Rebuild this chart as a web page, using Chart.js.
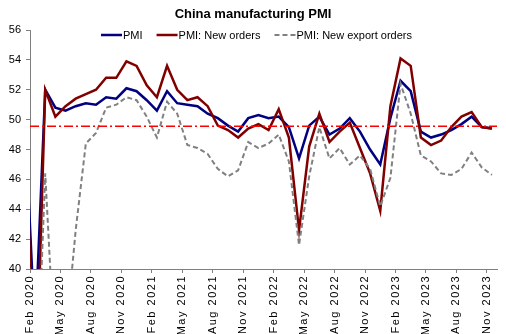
<!DOCTYPE html>
<html>
<head>
<meta charset="utf-8">
<script src="https://cdn.jsdelivr.net/npm/chart.js@4/dist/chart.umd.min.js"></script>
<style>
  body { margin: 0; background: #fff; }
</style>
</head>
<body>
<canvas id="pmiChart" width="506" height="334"></canvas>
<script>
// ---- data (Jan 2020 sits just left of the axis, line comes in from there) ----
const months = [
  'Jan 2020','Feb 2020','Mar 2020','Apr 2020','May 2020','Jun 2020','Jul 2020','Aug 2020','Sep 2020','Oct 2020','Nov 2020','Dec 2020',
  'Jan 2021','Feb 2021','Mar 2021','Apr 2021','May 2021','Jun 2021','Jul 2021','Aug 2021','Sep 2021','Oct 2021','Nov 2021','Dec 2021',
  'Jan 2022','Feb 2022','Mar 2022','Apr 2022','May 2022','Jun 2022','Jul 2022','Aug 2022','Sep 2022','Oct 2022','Nov 2022','Dec 2022',
  'Jan 2023','Feb 2023','Mar 2023','Apr 2023','May 2023','Jun 2023','Jul 2023','Aug 2023','Sep 2023','Oct 2023','Nov 2023'
];

const pmi = [
  50.0, 35.7, 52.0, 50.8, 50.6, 50.9, 51.1, 51.0, 51.5, 51.4, 52.1, 51.9,
  51.3, 50.6, 51.9, 51.1, 51.0, 50.9, 50.4, 50.1, 49.6, 49.2, 50.1, 50.3,
  50.1, 50.2, 49.5, 47.4, 49.6, 50.2, 49.0, 49.4, 50.1, 49.2, 48.0, 47.0,
  50.1, 52.6, 51.9, 49.2, 48.8, 49.0, 49.3, 49.7, 50.2, 49.5, 49.4
];

const newOrders = [
  51.4, 29.3, 52.0, 50.2, 50.9, 51.4, 51.7, 52.0, 52.8, 52.8, 53.9, 53.6,
  52.3, 51.5, 53.6, 52.0, 51.3, 51.5, 50.9, 49.6, 49.3, 48.8, 49.4, 49.7,
  49.3, 50.7, 48.8, 42.6, 48.2, 50.4, 48.5, 49.2, 49.8, 48.1, 46.4, 43.9,
  50.9, 54.1, 53.6, 48.8, 48.3, 48.6, 49.5, 50.2, 50.5, 49.5, 49.4
];

const exportOrders = [
  48.7, 28.7, 46.4, 33.5, 35.3, 42.6, 48.4, 49.1, 50.8, 51.0, 51.5, 51.3,
  50.2, 48.8, 51.2, 50.4, 48.3, 48.1, 47.7, 46.7, 46.2, 46.6, 48.5, 48.1,
  48.4, 49.0, 47.2, 41.6, 46.2, 49.5, 47.4, 48.1, 47.0, 47.6, 46.7, 44.2,
  46.1, 52.4, 50.4, 47.6, 47.2, 46.4, 46.3, 46.7, 47.8, 46.8, 46.3
];

const tickLabels = [
  'Feb 2020','May 2020','Aug 2020','Nov 2020','Feb 2021','May 2021','Aug 2021','Nov 2021',
  'Feb 2022','May 2022','Aug 2022','Nov 2022','Feb 2023','May 2023','Aug 2023','Nov 2023'
];

const refLevel = 49.55;   // red dash-dot level

// x position: Feb 2020 = 0
function toPoints(arr) {
  return arr.map((v, i) => ({ x: i - 1, y: v }));
}

const FONT = '"Liberation Sans", Arial, sans-serif';
Chart.defaults.font.family = FONT;
Chart.defaults.color = '#000';

const seriesStyle = [
  { label: 'PMI', color: '#000080', dash: [] },
  { label: 'PMI: New orders', color: '#800000', dash: [] },
  { label: 'PMI: New export orders', color: '#808080', dash: [5, 3] }
];

// title + legend drawn inside the plot like the original
const titleLegend = {
  id: 'titleLegend',
  afterUpdate(chart) {
    // the date labels are letter-spaced in the original
    const sx = chart.scales.x;
    if (sx && !sx._spaced) {
      const orig = sx.drawLabels;
      sx.drawLabels = function (area) {
        this.ctx.save();
        this.ctx.letterSpacing = '1.5px';
        orig.call(this, area);
        this.ctx.restore();
      };
      sx._spaced = true;
    }
  },
  afterDraw(chart) {
    const c = chart.ctx;
    c.save();
    c.fillStyle = '#000';
    c.font = 'bold 13px ' + FONT;
    c.textAlign = 'center';
    c.textBaseline = 'middle';
    c.fillText('China manufacturing PMI', 253, 14);

    c.font = '11px ' + FONT;
    c.textAlign = 'left';
    let x = 101;
    const y = 35;
    seriesStyle.forEach(s => {
      c.beginPath();
      c.strokeStyle = s.color;
      c.lineWidth = s.dash.length ? 2 : 2.5;
      c.setLineDash(s.dash);
      c.moveTo(x, y);
      c.lineTo(x + 21, y);
      c.stroke();
      c.setLineDash([]);
      c.fillText(s.label, x + 22, y + 1);
      x += 22 + c.measureText(s.label).width + 14;
    });
    c.restore();
  }
};

let ctx = document.getElementById('pmiChart');

let chart = new Chart(ctx, {
  type: 'line',
  data: {
    datasets: [
      {
        label: 'ref',
        data: [{ x: -0.5, y: refLevel }, { x: 45.5, y: refLevel }],
        borderColor: '#FF0000',
        borderWidth: 1.5,
        borderDash: [9, 3, 2, 3],
        order: 0
      },
      {
        label: seriesStyle[2].label,
        data: toPoints(exportOrders),
        borderColor: seriesStyle[2].color,
        borderWidth: 2,
        borderDash: seriesStyle[2].dash,
        order: 1
      },
      {
        label: seriesStyle[1].label,
        data: toPoints(newOrders),
        borderColor: seriesStyle[1].color,
        borderWidth: 2.5,
        order: 2
      },
      {
        label: seriesStyle[0].label,
        data: toPoints(pmi),
        borderColor: seriesStyle[0].color,
        borderWidth: 2.5,
        order: 3
      }
    ]
  },
  options: {
    responsive: false,
    animation: false,
    layout: { padding: { top: 30, right: 9, left: 0, bottom: 0 } },
    elements: {
      point: { radius: 0 },
      line: { tension: 0, fill: false }
    },
    plugins: {
      legend: { display: false },
      tooltip: { enabled: false }
    },
    scales: {
      x: {
        type: 'linear',
        min: -0.5,
        max: 45.5,
        afterBuildTicks: axis => {
          axis.ticks = tickLabels.map(l => ({ value: months.indexOf(l) - 1.5 }));
        },
        afterFit: s => { s.height = 65; },
        ticks: {
          autoSkip: false,
          maxRotation: 90,
          minRotation: 90,
          padding: 2,
          font: { size: 11 },
          callback: v => months[Math.round(v + 1.5)]
        },
        grid: { drawOnChartArea: false, tickLength: 4, color: '#808080' },
        border: { color: '#808080' }
      },
      y: {
        min: 40,
        max: 56,
        afterFit: s => { s.width = 30; },
        ticks: { stepSize: 2, padding: 5, font: { size: 11 } },
        grid: { drawOnChartArea: false, tickLength: 4, color: '#808080' },
        border: { color: '#808080' }
      }
    }
  },
  plugins: [titleLegend]
});
</script>
</body>
</html>
